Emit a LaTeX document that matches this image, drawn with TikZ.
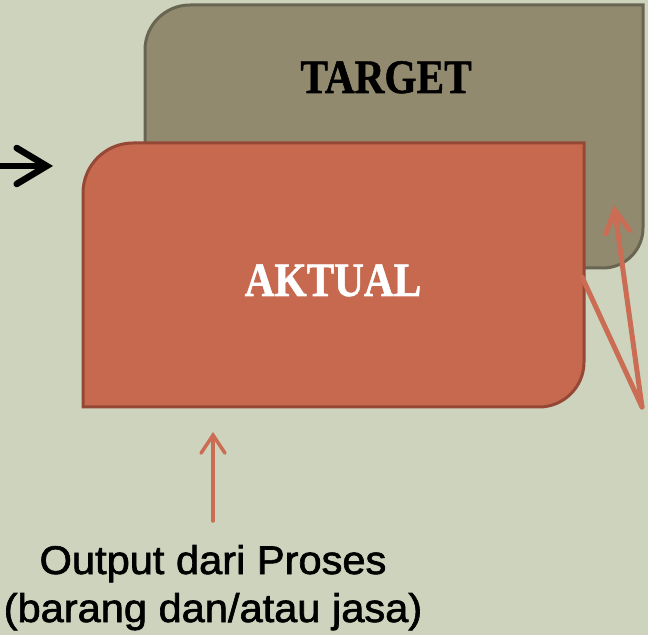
\documentclass[tikz,border=0pt]{standalone}
\usepackage{fontspec}
\setmainfont{Liberation Serif}
\newfontfamily\capfont[FakeBold=1.6]{Liberation Sans}
\newfontfamily\boxfont[FakeBold=1.2]{Liberation Serif Bold}
\usetikzlibrary{arrows.meta}
\definecolor{bgsage}{RGB}{205,211,188}
\definecolor{tgtfill}{RGB}{145,138,111}
\definecolor{tgtline}{RGB}{104,101,82}
\definecolor{aktfill}{RGB}{198,105,79}
\definecolor{aktline}{RGB}{150,72,54}
\definecolor{pointred}{RGB}{203,108,84}

\begin{document}
\begin{tikzpicture}[x=1pt,y=1pt,
    boxword/.style={font=\boxfont\fontsize{48}{52}\selectfont, anchor=base, inner sep=0pt},
    capword/.style={font=\capfont\fontsize{40}{48}\selectfont, anchor=base, inner sep=0pt},
    feed/.style={black, line width=6.5pt, line cap=round, line join=round,
        -{Straight Barb[length=30pt, width=36pt, line cap=round]}},
    pointer/.style={pointred, line width=5pt, line cap=round}]
	%the page
    \useasboundingbox (0,0) rectangle (648,635);
    \fill[bgsage] (0,0) rectangle (648,635);
	%target box, corners top left and bottom right rounded
    \def\tgL{145} \def\tgR{643} \def\tgT{630} \def\tgB{367}
    \draw[fill=tgtfill, draw=tgtline, line width=3pt]
        (\tgL,\tgB) -- (\tgL,\tgT-45) arc[start angle=180, end angle=90, radius=45]
        -- (\tgR,\tgT) -- (\tgR,\tgB+40) arc[start angle=0, end angle=-90, radius=40] -- cycle;
	%aktual box in front of it
    \def\akL{83} \def\akR{584} \def\akT{492} \def\akB{228}
    \draw[fill=aktfill, draw=aktline, line width=3pt]
        (\akL,\akB) -- (\akL,\akT-50) arc[start angle=180, end angle=90, radius=50]
        -- (\akR,\akT) -- (\akR,\akB+45) arc[start angle=0, end angle=-90, radius=45] -- cycle;
    \node[boxword, black] (target) at (386,542) {\scalebox{0.86}[1]{TARGET}};
    \node[boxword, white] (aktual) at (333,339) {\scalebox{0.86}[1]{AKTUAL}};
	%caption below
    \node[capword] (outA) at (213,61) {\scalebox{1.04}[1]{Output dari Proses}};
    \node[capword] (outB) at (213,13) {\scalebox{1.04}[1]{(barang dan/atau jasa)}};
	%arrows
    \coordinate (feedin) at (-4,469);
    \coordinate (feedout) at (53,469);
    \draw[feed] (feedin) -- (feedout);
    \coordinate (uptail) at (213,114);
    \coordinate (uptip) at (213,203);
    \draw[pointer, line width=3.5pt, -{Straight Barb[length=18pt, width=24pt, line cap=round]}] (uptail) -- (uptip);
    \coordinate (fork) at (642,228);
    \coordinate (aktedge) at (582,358);
    \coordinate (tgtpt) at (614,430);
    \draw[pointer] (fork) -- (aktedge);
    \draw[pointer, -{Straight Barb[length=22pt, width=24pt, line cap=round]}] (fork) -- (tgtpt);
\end{tikzpicture}
\end{document}
